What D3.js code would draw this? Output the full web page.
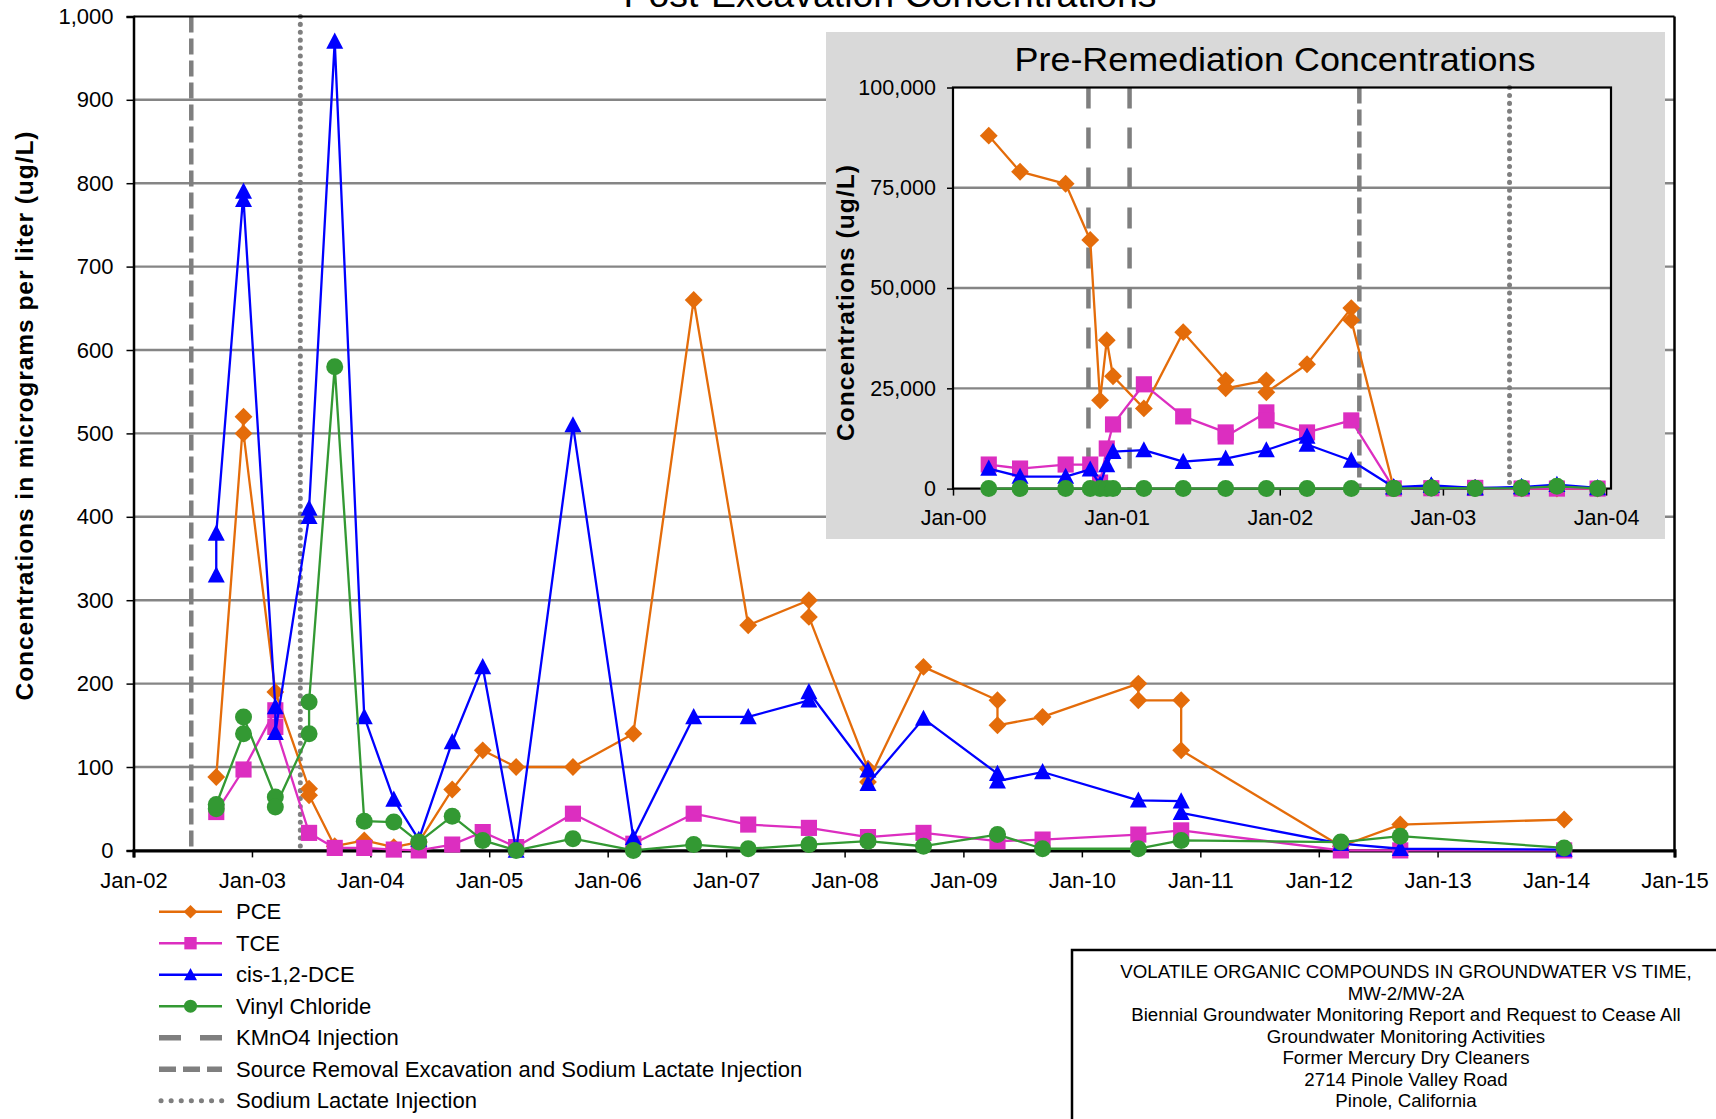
<!DOCTYPE html>
<html>
<head>
<meta charset="utf-8">
<script src="https://cdn.jsdelivr.net/npm/d3@7"></script>
<style>
  body { margin: 0; background: #fff; }
  svg { display: block; }
  text { font-family: "Liberation Sans", Arial, Helvetica, sans-serif; fill: #000; }
</style>
</head>
<body>
<script>
// ---------------------------------------------------------------
// Groundwater VOC concentrations, MW-2/MW-2A (ug/L)
// A value given as a pair means two results on the same date
// (sample + duplicate); both are plotted and joined.
// ---------------------------------------------------------------

// Post-excavation monitoring events
const postDates = [
  "2002-09-13", "2002-12-06", "2003-03-14", "2003-06-26", "2003-09-13",
  "2003-12-13", "2004-03-13", "2004-05-29", "2004-09-09", "2004-12-12",
  "2005-03-25", "2005-09-16", "2006-03-21", "2006-09-23", "2007-03-10",
  "2007-09-13", "2008-03-13", "2008-08-31", "2009-04-16", "2009-09-02",
  "2010-06-24", "2010-11-03", "2012-03-09", "2012-09-08", "2014-01-26"
];
const pcePost = [88, [520, 500], 190, [74, 66], 5, 12, 4, 10, 73, 120,
  100, 100, 140, 660, 270, [300, 280], [98, 82], 220, [180, 150], 160,
  [200, 180], [180, 120], 5, 31, 37];
const tcePost = [46, 97, [168, 148], 21, 3, 3, 1, 0, 7, 22,
  4, 44, 8, 44, 31, 27, 16, 21, 11, 13,
  19, 24, 0, 0, 0];
const dcePost = [[330, 380], [790, 780], [172, 141], [400, 410], 970, 160, 61, 13, 130, 220,
  0, 510, 15, 160, 160, [180, 190], [96, 80], 158, [92, 83], 94,
  60, [59, 45], 8, 2, 1];
const vcPost = [[50, 55], [140, 160], [64, 52], [140, 178], 580, 35, 34, 10, 41, 12,
  0, 14, 0, 7, 2, 7, 11, 5, 19, 2,
  2, 12, 10, 17, 3];

// Pre-remediation monitoring events
const preDates = [
  "2000-03-21", "2000-05-30", "2000-09-09", "2000-11-03", "2000-11-25",
  "2000-12-10", "2000-12-24", "2001-03-03", "2001-05-30", "2001-09-02",
  "2001-12-02", "2002-03-03", "2002-06-10"
];
const pcePre = [88000, 79000, 76000, 62000, 22000, 37000, 28000, 20000, 39000,
  [27000, 25000], [27000, 24000], 31000, [45000, 42000]];
const tcePre = [6000, 5000, 6000, 6000, 1500, 10000, 16000, 26000, 18000,
  [14000, 13000], [19000, 17000], 14000, 17000];
const dcePre = [5000, 3000, 3000, 4800, 1000, 5900, 9200, 9600, 6700,
  7500, 9600, [13000, 11000], 7000];
const vcPre = [0, 0, 0, 0, 0, 0, 0, 0, 0, 0, 0, 0, 0];

// Remediation events
const kmno4Dates = ["2000-10-30", "2001-01-30"];
const excavationDates = ["2002-06-28"];
const lactateDates = ["2003-05-30"];

// Series and legend
const seriesNames = ["PCE", "TCE", "cis-1,2-DCE", "Vinyl Chloride"];
const seriesColors = ["#E46C0A", "#DC2EC0", "#0000FF", "#339933"];
const seriesShapes = ["diamond", "square", "triangle", "circle"];
const eventNames = ["KMnO4 Injection",
  "Source Removal Excavation and Sodium Lactate Injection",
  "Sodium Lactate Injection"];

// Axis ticks
const mainYTicks = [0, 100, 200, 300, 400, 500, 600, 700, 800, 900, 1000];
const mainXTickYears = [2002, 2003, 2004, 2005, 2006, 2007, 2008, 2009, 2010, 2011, 2012, 2013, 2014, 2015];
const insetYTicks = [0, 25000, 50000, 75000, 100000];
const insetXTickYears = [2000, 2001, 2002, 2003, 2004];

// Title block text
const titleBlock = [
  "VOLATILE ORGANIC COMPOUNDS IN GROUNDWATER VS TIME,",
  "MW-2/MW-2A",
  "Biennial Groundwater Monitoring Report and Request to Cease All",
  "Groundwater Monitoring Activities",
  "Former Mercury Dry Cleaners",
  "2714 Pinole Valley Road",
  "Pinole, California"
];

// ---------------------------------------------------------------
const parse = d3.utcParse("%Y-%m-%d");
const GRID = "#858585";
const EVENT = "#7f7f7f";
const eventStyles = {
  kmno4: { dash: "21 19", width: 4.5, cap: "butt" },
  excavation: { dash: "16 6", width: 4.5, cap: "butt" },
  lactate: { dash: "0.1 7.8", width: 5, cap: "round" }
};

function expand(dates, values) {
  const pts = [];
  dates.forEach((d, i) => {
    const v = values[i];
    if (v == null) return;
    (Array.isArray(v) ? v : [v]).forEach(val => pts.push({ date: parse(d), value: val }));
  });
  return pts;
}

function markerPath(shape, s) {
  // s = overall marker size in px
  const r = s / 2;
  switch (shape) {
    case "diamond": return `M0,${-r * 1.05}L${r * 1.05},0L0,${r * 1.05}L${-r * 1.05},0Z`;
    case "square": return `M${-r * 0.95},${-r * 0.95}H${r * 0.95}V${r * 0.95}H${-r * 0.95}Z`;
    case "triangle": return `M0,${-r * 1.05}L${r},${r * 0.85}L${-r},${r * 0.85}Z`;
    default: return d3.symbol(d3.symbolCircle, Math.PI * r * r)();
  }
}

const svg = d3.select("body").append("svg")
  .attr("width", 1716).attr("height", 1119)
  .attr("viewBox", "0 0 1716 1119");

function drawSeries(g, x, y, seriesPts, markerSize) {
  const line = d3.line().x(d => x(d.date)).y(d => y(d.value));
  seriesPts.forEach((pts, i) => {
    const sg = g.append("g");
    sg.append("path").attr("d", line(pts))
      .attr("fill", "none").attr("stroke", seriesColors[i])
      .attr("stroke-width", 2.3).attr("stroke-linejoin", "round");
    sg.selectAll("path.m").data(pts).join("path").attr("class", "m")
      .attr("d", markerPath(seriesShapes[i], markerSize))
      .attr("transform", d => `translate(${x(d.date)},${y(d.value)})`)
      .attr("fill", seriesColors[i]);
  });
}

function drawEvents(g, x, y0, y1, list) {
  list.forEach(([dates, key]) => {
    const st = eventStyles[key];
    dates.forEach(d => {
      const xx = x(parse(d));
      if (xx < x.range()[0] || xx > x.range()[1]) return;
      g.append("line").attr("x1", xx).attr("x2", xx).attr("y1", y0).attr("y2", y1)
        .attr("stroke", EVENT).attr("stroke-width", st.width)
        .attr("stroke-dasharray", st.dash).attr("stroke-linecap", st.cap);
    });
  });
}

// ================= Main (post-excavation) chart =================
const M = { left: 133.5, right: 1674.5, top: 16.4, bottom: 850.4 };
const xMain = d3.scaleUtc()
  .domain([Date.UTC(2002, 0, 1), Date.UTC(2015, 0, 1)])
  .range([M.left, M.right]);
const yMain = d3.scaleLinear().domain([0, 1000]).range([M.bottom, M.top]);

const main = svg.append("g");

// gridlines
main.selectAll("line.grid").data(mainYTicks.filter(v => v > 0 && v < 1000)).join("line")
  .attr("x1", M.left).attr("x2", M.right)
  .attr("y1", d => yMain(d)).attr("y2", d => yMain(d))
  .attr("stroke", GRID).attr("stroke-width", 2.4);

drawEvents(main, xMain, M.top, M.bottom,
  [[kmno4Dates, "kmno4"], [excavationDates, "excavation"], [lactateDates, "lactate"]]);

// frame
main.append("line").attr("x1", M.left).attr("x2", M.right).attr("y1", M.top).attr("y2", M.top)
  .attr("stroke", "#000").attr("stroke-width", 2);
main.append("line").attr("x1", M.right).attr("x2", M.right).attr("y1", M.top).attr("y2", M.bottom)
  .attr("stroke", "#000").attr("stroke-width", 2.5);

// y axis
const yAxisMain = d3.axisLeft(yMain).tickValues(mainYTicks).tickSize(7).tickPadding(13)
  .tickFormat(d3.format(","));
const gy = main.append("g").attr("transform", `translate(${M.left},0)`).call(yAxisMain);
gy.select(".domain").attr("stroke", "#000").attr("stroke-width", 2.5);
gy.selectAll(".tick line").attr("stroke", "#000").attr("stroke-width", 1.5);
gy.selectAll(".tick text").attr("font-size", 22).attr("font-family", "Liberation Sans, Arial, sans-serif");

// x axis
const xAxisMain = d3.axisBottom(xMain)
  .tickValues(mainXTickYears.map(yr => new Date(Date.UTC(yr, 0, 1))))
  .tickSize(7).tickPadding(15).tickFormat(d3.utcFormat("%b-%y"));
const gx = main.append("g").attr("transform", `translate(0,${M.bottom})`).call(xAxisMain);
gx.select(".domain").attr("stroke", "#000").attr("stroke-width", 3.2);
gx.selectAll(".tick line").attr("stroke", "#000").attr("stroke-width", 1.5);
gx.selectAll(".tick text").attr("font-size", 22).attr("font-family", "Liberation Sans, Arial, sans-serif");

// data
const postSeries = [pcePost, tcePost, dcePost, vcPost].map(v => expand(postDates, v));
drawSeries(main, xMain, yMain, postSeries, 17);

// titles
svg.append("text").attr("x", 890).attr("y", 7).attr("text-anchor", "middle")
  .attr("font-size", 36).attr("textLength", 533).attr("lengthAdjust", "spacingAndGlyphs")
  .text("Post-Excavation Concentrations");
svg.append("text")
  .attr("transform", "translate(24,416) rotate(-90)")
  .attr("text-anchor", "middle").attr("dominant-baseline", "central")
  .attr("font-size", 24.5).attr("font-weight", "bold")
  .attr("textLength", 569).attr("lengthAdjust", "spacing")
  .text("Concentrations in micrograms per liter (ug/L)");

// ================= Inset (pre-remediation) chart =================
const I = { left: 953, right: 1611, top: 87.5, bottom: 488.6 };
const xIn = d3.scaleUtc()
  .domain([Date.UTC(2000, 0, 1), Date.UTC(2004, 0, 12)])
  .range([I.left, I.right]);
const yIn = d3.scaleLinear().domain([0, 100000]).range([I.bottom, I.top]);
const inset = svg.append("g");

inset.append("rect").attr("x", 826).attr("y", 32).attr("width", 839).attr("height", 507)
  .attr("fill", "#d9d9d9");
inset.append("rect").attr("x", I.left).attr("y", I.top)
  .attr("width", I.right - I.left).attr("height", I.bottom - I.top).attr("fill", "#fff");

inset.selectAll("line.grid").data(insetYTicks.filter(v => v > 0 && v < 100000)).join("line")
  .attr("x1", I.left).attr("x2", I.right)
  .attr("y1", d => yIn(d)).attr("y2", d => yIn(d))
  .attr("stroke", GRID).attr("stroke-width", 2.4);

drawEvents(inset, xIn, I.top, I.bottom,
  [[kmno4Dates, "kmno4"], [excavationDates, "excavation"], [lactateDates, "lactate"]]);

inset.append("rect").attr("x", I.left).attr("y", I.top)
  .attr("width", I.right - I.left).attr("height", I.bottom - I.top)
  .attr("fill", "none").attr("stroke", "#000").attr("stroke-width", 2.2);

const yAxisIn = d3.axisLeft(yIn).tickValues(insetYTicks).tickSize(6).tickPadding(11)
  .tickFormat(d3.format(","));
const giy = inset.append("g").attr("transform", `translate(${I.left},0)`).call(yAxisIn);
giy.select(".domain").remove();
giy.selectAll(".tick line").attr("stroke", "#000").attr("stroke-width", 1.5);
giy.selectAll(".tick text").attr("font-size", 21.5).attr("font-family", "Liberation Sans, Arial, sans-serif");

const xAxisIn = d3.axisBottom(xIn)
  .tickValues(insetXTickYears.map(yr => new Date(Date.UTC(yr, 0, 1))))
  .tickSize(7).tickPadding(14).tickFormat(d3.utcFormat("%b-%y"));
const gix = inset.append("g").attr("transform", `translate(0,${I.bottom})`).call(xAxisIn);
gix.select(".domain").remove();
gix.selectAll(".tick line").attr("stroke", "#000").attr("stroke-width", 1.5);
gix.selectAll(".tick text").attr("font-size", 21.5).attr("font-family", "Liberation Sans, Arial, sans-serif");

// inset data: pre-remediation record plus the post-excavation events inside the window
const insetEnd = xIn.domain()[1];
const keepIdx = postDates.map((d, i) => parse(d) <= insetEnd ? i : -1).filter(i => i >= 0);
const insetDates = preDates.concat(keepIdx.map(i => postDates[i]));
const insetSeries = [
  [pcePre, pcePost], [tcePre, tcePost], [dcePre, dcePost], [vcPre, vcPost]
].map(([pre, post]) => expand(insetDates, pre.concat(keepIdx.map(i => post[i]))));
drawSeries(inset, xIn, yIn, insetSeries, 17);

inset.append("text").attr("x", 1275).attr("y", 71).attr("text-anchor", "middle")
  .attr("font-size", 34).attr("textLength", 521).attr("lengthAdjust", "spacingAndGlyphs")
  .text("Pre-Remediation Concentrations");
inset.append("text")
  .attr("transform", "translate(845,303) rotate(-90)")
  .attr("text-anchor", "middle").attr("dominant-baseline", "central")
  .attr("font-size", 24.5).attr("font-weight", "bold")
  .attr("textLength", 276).attr("lengthAdjust", "spacing")
  .text("Concentrations (ug/L)");

// ================= Legend =================
const legend = svg.append("g");
const L = { x0: 159, x1: 222, text: 236, y0: 911.7, dy: 31.5 };
seriesNames.forEach((name, i) => {
  const yy = L.y0 + i * L.dy;
  legend.append("line").attr("x1", L.x0).attr("x2", L.x1).attr("y1", yy).attr("y2", yy)
    .attr("stroke", seriesColors[i]).attr("stroke-width", 2.5);
  legend.append("path").attr("d", markerPath(seriesShapes[i], 13))
    .attr("transform", `translate(${(L.x0 + L.x1) / 2},${yy})`).attr("fill", seriesColors[i]);
  legend.append("text").attr("x", L.text).attr("y", yy).attr("dy", "0.35em")
    .attr("font-size", 22).text(name);
});
const legendEventDash = ["22 19", "17 7", "0.1 10"];
["kmno4", "excavation", "lactate"].forEach((key, j) => {
  const yy = L.y0 + (4 + j) * L.dy;
  const st = eventStyles[key];
  legend.append("line").attr("x1", key === "lactate" ? L.x0 + 2 : L.x0).attr("x2", L.x1).attr("y1", yy).attr("y2", yy)
    .attr("stroke", EVENT).attr("stroke-width", key === "lactate" ? 5 : 5.5)
    .attr("stroke-dasharray", legendEventDash[j]).attr("stroke-linecap", st.cap);
  legend.append("text").attr("x", L.text).attr("y", yy).attr("dy", "0.35em")
    .attr("font-size", 22).text(eventNames[j]);
});

// ================= Title block =================
const tb = svg.append("g");
tb.append("rect").attr("x", 1072).attr("y", 950).attr("width", 700).attr("height", 250)
  .attr("fill", "#fff").attr("stroke", "#000").attr("stroke-width", 2.5);
titleBlock.forEach((t, i) => {
  tb.append("text").attr("x", 1406).attr("y", 971.8 + i * 21.5).attr("dy", "0.35em")
    .attr("text-anchor", "middle").attr("font-size", 18.7).text(t);
});
</script>
</body>
</html>
